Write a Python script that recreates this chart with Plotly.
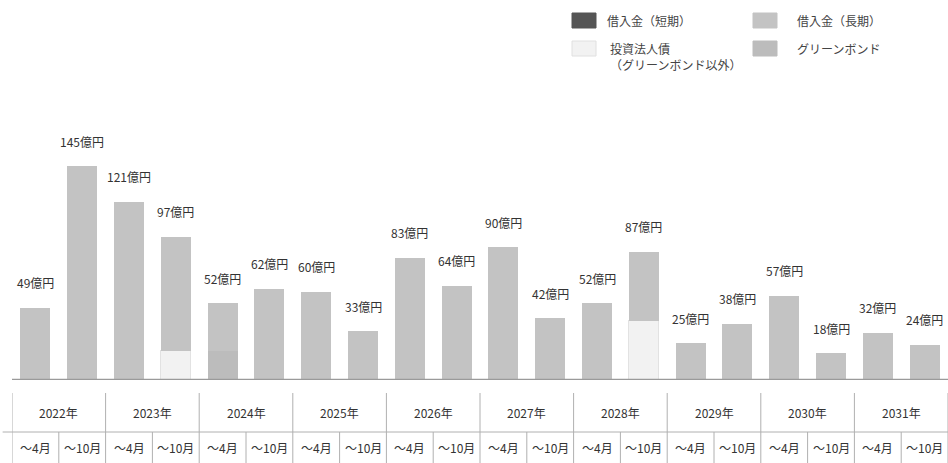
import plotly.graph_objects as go

years = ["2022年", "2023年", "2024年", "2025年", "2026年", "2027年", "2028年", "2029年", "2030年", "2031年"]
halves = ["～4月", "～10月"]
categories = [f"{y}{h}" for y in years for h in halves]

short_term = [0] * 20
long_term = [49, 145, 121, 77, 32, 62, 60, 33, 83, 64, 90, 42, 52, 47, 25, 38, 57, 18, 32, 24]
bonds = [0, 0, 0, 20, 0, 0, 0, 0, 0, 0, 0, 0, 0, 40, 0, 0, 0, 0, 0, 0]
green = [0, 0, 0, 0, 20, 0, 0, 0, 0, 0, 0, 0, 0, 0, 0, 0, 0, 0, 0, 0]

series_names = ["借入金（短期）", "借入金（長期）", "投資法人債<br>（グリーンボンド以外）", "グリーンボンド"]
colors = {"short": "#555555", "long": "#c3c3c3", "bonds": "#f2f2f2", "green": "#bcbcbc"}

FONT = "Noto Sans CJK JP"
x = list(range(len(categories)))
totals = [a + b + c + d for a, b, c, d in zip(short_term, long_term, bonds, green)]

fig = go.Figure()
bw = 0.64
fig.add_bar(x=x, y=bonds, name=series_names[2], width=bw,
            marker=dict(color=colors["bonds"], line=dict(color="#e2e2e2", width=1)), showlegend=False)
fig.add_bar(x=x, y=green, name=series_names[3], width=bw,
            marker=dict(color=colors["green"], line=dict(width=0)), showlegend=False)
fig.add_bar(x=x, y=long_term, name=series_names[1], width=bw,
            marker=dict(color=colors["long"], line=dict(width=0)), showlegend=False)
fig.add_bar(x=x, y=short_term, name=series_names[0], width=bw,
            marker=dict(color=colors["short"], line=dict(width=0)), showlegend=False)

annotations = []
shapes = []

# value labels
for i, t in enumerate(totals):
    annotations.append(dict(x=i, y=t, xref="x", yref="y", text=f"{t}億円", showarrow=False,
                            yanchor="middle", yshift=25, font=dict(family=FONT, size=12, color="#333333")))

# baseline
shapes.append(dict(type="line", xref="x", yref="y", x0=-0.5, x1=19.6, y0=0, y1=0,
                   line=dict(color="#9a9a9a", width=2.5)))

# table (paper coordinates; plot spans pixel rows 144..380, 236 px)
def py(pix):
    return (380 - pix) / 236

line_col = "#b0b0b0"
# row separator
shapes.append(dict(type="line", xref="paper", yref="paper", x0=-0.01, x1=1.0, y0=py(432), y1=py(432),
                   line=dict(color=line_col, width=1)))
for k in range(len(years) + 1):
    xv = -0.5 + 2 * k
    shapes.append(dict(type="line", xref="x", yref="paper", x0=xv, x1=xv, y0=py(393), y1=py(463),
                       line=dict(color=line_col, width=1)))
for k in range(len(years)):
    xv = 0.5 + 2 * k
    shapes.append(dict(type="line", xref="x", yref="paper", x0=xv, x1=xv, y0=py(432), y1=py(463),
                       line=dict(color=line_col, width=1)))
for k, yname in enumerate(years):
    annotations.append(dict(x=0.5 + 2 * k, y=py(412), xref="x", yref="paper", text=yname, showarrow=False,
                            yanchor="middle", font=dict(family=FONT, size=12, color="#333333")))
for i, c in enumerate(categories):
    annotations.append(dict(x=i, y=py(447), xref="x", yref="paper", text=halves[i % 2], showarrow=False,
                            yanchor="middle", font=dict(family=FONT, size=12, color="#333333")))

# legend (manual, pixel-based in paper coords)
W, L = 936, 12
def px(pix):
    return (pix - L) / W

legend_items = [
    (572, 13, colors["short"], None, series_names[0], 605, 20),
    (753, 13, colors["long"], None, series_names[1], 795, 20),
    (572, 41, colors["bonds"], "#e0e0e0", series_names[2], 608, 56),
    (753, 41, colors["green"], None, series_names[3], 795, 48),
]
for sx, sy, col, border, label, tx, ty in legend_items:
    shapes.append(dict(type="rect", xref="paper", yref="paper", x0=px(sx), x1=px(sx + 24),
                       y0=py(sy + 15), y1=py(sy),
                       fillcolor=col, line=dict(color=border if border else col, width=1)))
    annotations.append(dict(x=px(tx), y=py(ty), xref="paper", yref="paper", text=label, showarrow=False,
                            xanchor="left", yanchor="middle", align="left",
                            font=dict(family=FONT, size=12, color="#444444")))

fig.update_layout(
    barmode="stack",
    width=948, height=463,
    margin=dict(l=12, r=0, t=144, b=83),
    paper_bgcolor="white", plot_bgcolor="white",
    xaxis=dict(range=[-0.5, 19.5], showticklabels=False, showgrid=False, zeroline=False, showline=False,
               ticks=""),
    yaxis=dict(range=[0, 160], showticklabels=False, showgrid=False, zeroline=False, showline=False),
    annotations=annotations,
    shapes=shapes,
    showlegend=False,
    bargap=0,
)

fig.write_html("out.html", config={"displayModeBar": False},
               post_script="document.body.style.margin='0';document.body.style.overflow='hidden';")
